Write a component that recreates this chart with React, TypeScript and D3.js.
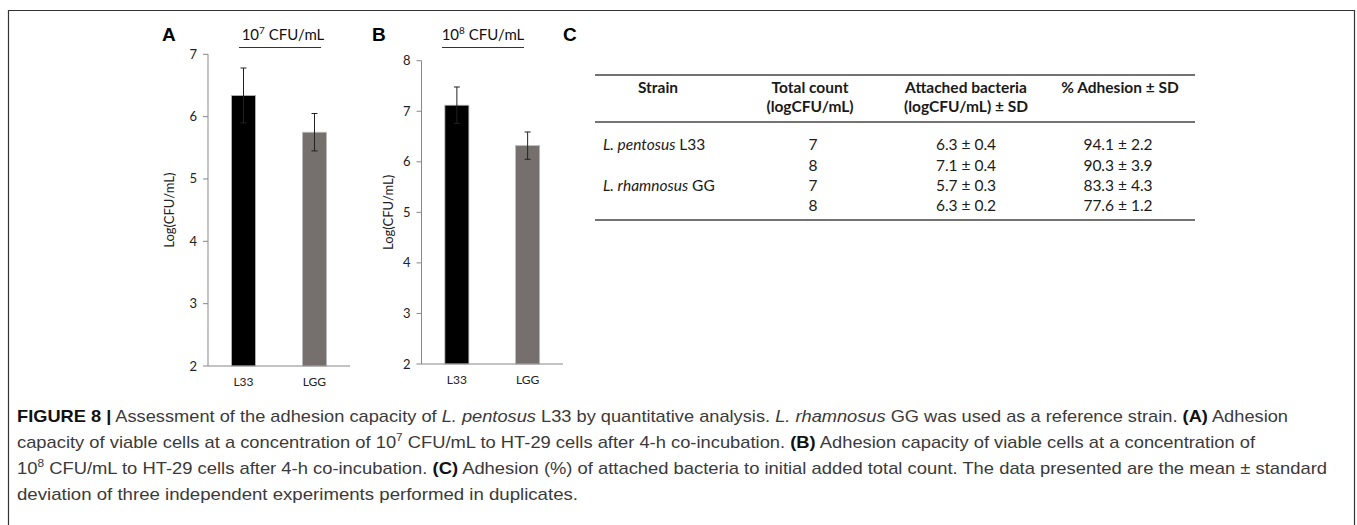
import React from 'react';
import * as d3 from 'd3';

// panel data (log CFU/mL, mean and SD)
const strains = ['L33', 'LGG'];
const meansA = [6.34, 5.75];
const sdA = [0.44, 0.3];
const meansB = [7.12, 6.32];
const sdB = [0.36, 0.27];
const ticksA = [2, 3, 4, 5, 6, 7];
const ticksB = [2, 3, 4, 5, 6, 7, 8];
const barColors = ['#000000', '#756f6d'];

// table C
const tableHeaders = [
  ['Strain'],
  ['Total count', '(logCFU/mL)'],
  ['Attached bacteria', '(logCFU/mL) ± SD'],
  ['% Adhesion ± SD'],
];
const tableStrain = ['L. pentosus', '', 'L. rhamnosus', ''];
const tableStrainCode = ['L33', '', 'GG', ''];
const tableTotal = ['7', '8', '7', '8'];
const tableAttached = ['6.3 ± 0.4', '7.1 ± 0.4', '5.7 ± 0.3', '6.3 ± 0.2'];
const tableAdhesion = ['94.1 ± 2.2', '90.3 ± 3.9', '83.3 ± 4.3', '77.6 ± 1.2'];

const chartFont = 'Lato, "Open Sans", sans-serif';
const capFont = '"Liberation Sans", Arial, sans-serif';

type PanelProps = {
  letter: string;
  exp: string;
  means: number[];
  sds: number[];
  ticks: number[];
  x0: number;
  x1: number;
  yTop: number;
  yBottom: number;
  letterX: number;
  titleX: number;
  ruleX: [number, number];
  labelX: number;
};

const Panel = (p: PanelProps) => {
  const y = d3.scaleLinear()
    .domain([2, d3.max(p.ticks) as number])
    .range([p.yBottom, p.yTop]);
  const x = d3.scaleBand<string>()
    .domain(strains)
    .range([p.x0, p.x1])
    .paddingInner(0.66)
    .paddingOuter(0.33);
  const bw = x.bandwidth();
  const midY = (p.yTop + p.yBottom) / 2;

  return (
    <g fontFamily={chartFont}>
      <text x={p.letterX} y={41} fontSize={19} fontWeight="bold" fontFamily={capFont}>{p.letter}</text>
      <text x={p.titleX} y={40} fontSize={15} textAnchor="middle" fill="#111">
        10<tspan dy={-6} fontSize={10}>{p.exp}</tspan><tspan dy={6}> CFU/mL</tspan>
      </text>
      <line x1={p.ruleX[0]} x2={p.ruleX[1]} y1={47.5} y2={47.5} stroke="#333" strokeWidth={1} />

      {/* bars */}
      {strains.map((s, i) => (
        <rect key={s}
          x={x(s)}
          y={y(p.means[i])}
          width={bw}
          height={p.yBottom - y(p.means[i])}
          fill={barColors[i]}
          stroke="#bdbdbd"
          strokeWidth={0.8} />
      ))}

      {/* error bars */}
      {strains.map((s, i) => {
        const cx = (x(s) as number) + bw / 2;
        const top = y(p.means[i] + p.sds[i]);
        const bot = y(p.means[i] - p.sds[i]);
        return (
          <g key={s} stroke="#222" strokeWidth={1}>
            <line x1={cx} x2={cx} y1={top} y2={bot} />
            <line x1={cx - 3} x2={cx + 3} y1={top} y2={top} />
            <line x1={cx - 3} x2={cx + 3} y1={bot} y2={bot} />
          </g>
        );
      })}

      {/* y axis */}
      <line x1={p.x0} x2={p.x0} y1={p.yTop} y2={p.yBottom} stroke="#888" strokeWidth={1} />
      {p.ticks.map(t => (
        <g key={t}>
          <line x1={p.x0 - 5} x2={p.x0} y1={y(t)} y2={y(t)} stroke="#888" strokeWidth={1} />
          <text x={p.x0 - 11} y={y(t) + 4.5} fontSize={13} textAnchor="end" fill="#222">{t}</text>
        </g>
      ))}
      <text transform={`translate(${p.labelX},${midY}) rotate(-90)`} fontSize={13} textAnchor="middle" fill="#222">Log(CFU/mL)</text>

      {/* x axis */}
      <line x1={p.x0} x2={p.x1} y1={p.yBottom} y2={p.yBottom} stroke="#888" strokeWidth={1} />
      {strains.map(s => (
        <text key={s} x={(x(s) as number) + bw / 2} y={p.yBottom + 20} fontSize={12} textAnchor="middle" fill="#222">{s}</text>
      ))}
    </g>
  );
};

const Table = () => {
  const colX = [658, 810, 966, 1120];
  const rowY = [150, 171, 191, 211];
  return (
    <g fontFamily={chartFont} fontSize={15.5} fill="#1a1a1a">
      <text x={563} y={41} fontSize={19} fontWeight="bold" fontFamily={capFont} fill="#000">C</text>
      <line x1={595} x2={1195} y1={75} y2={75} stroke="#444" strokeWidth={1.5} />
      <line x1={595} x2={1195} y1={122} y2={122} stroke="#444" strokeWidth={1.5} />
      <line x1={595} x2={1195} y1={220} y2={220} stroke="#444" strokeWidth={1.5} />
      {tableHeaders.map((h, i) => (
        <text key={i} x={colX[i]} y={93} textAnchor="middle" fontWeight="bold">
          {h.map((l, j) => (
            <tspan key={j} x={colX[i]} dy={j === 0 ? 0 : 19}>{l}</tspan>
          ))}
        </text>
      ))}
      {rowY.map((ry, i) => (
        <g key={i}>
          {tableStrain[i] && (
            <text x={603} y={ry}>
              <tspan fontStyle="italic">{tableStrain[i]}</tspan> {tableStrainCode[i]}
            </text>
          )}
          <text x={813} y={ry} textAnchor="middle">{tableTotal[i]}</text>
          <text x={966} y={ry} textAnchor="middle">{tableAttached[i]}</text>
          <text x={1118} y={ry} textAnchor="middle">{tableAdhesion[i]}</text>
        </g>
      ))}
    </g>
  );
};

const Caption = () => (
  <g fontFamily={capFont} fontSize={17} fill="#3a3a3a">
    <text x={17} y={422} textLength={1271} lengthAdjust="spacingAndGlyphs">
      <tspan fontWeight="bold" fill="#111">FIGURE 8 |</tspan> Assessment of the adhesion capacity of <tspan fontStyle="italic">L. pentosus</tspan> L33 by quantitative analysis. <tspan fontStyle="italic">L. rhamnosus</tspan> GG was used as a reference strain. <tspan fontWeight="bold" fill="#111">(A)</tspan> Adhesion
    </text>
    <text x={17} y={448} textLength={1238} lengthAdjust="spacingAndGlyphs">
      capacity of viable cells at a concentration of 10<tspan dy={-7} fontSize={11}>7</tspan><tspan dy={7}> CFU/mL to HT-29 cells after 4-h co-incubation. </tspan><tspan fontWeight="bold" fill="#111">(B)</tspan> Adhesion capacity of viable cells at a concentration of
    </text>
    <text x={17} y={474} textLength={1310} lengthAdjust="spacingAndGlyphs">
      10<tspan dy={-7} fontSize={11}>8</tspan><tspan dy={7}> CFU/mL to HT-29 cells after 4-h co-incubation. </tspan><tspan fontWeight="bold" fill="#111">(C)</tspan> Adhesion (%) of attached bacteria to initial added total count. The data presented are the mean ± standard
    </text>
    <text x={17} y={500} textLength={561} lengthAdjust="spacingAndGlyphs">
      deviation of three independent experiments performed in duplicates.
    </text>
  </g>
);

export default function App() {
  return (
    <svg width={1357} height={525} style={{ position: 'absolute', left: 0, top: 0, background: '#fff' }}>
      <path d="M8.5,540 V10.5 H1354.5 V540" fill="none" stroke="#333" strokeWidth={1.2} />
      <Panel letter="A" exp="7" means={meansA} sds={sdA} ticks={ticksA}
        x0={208} x1={350} yTop={54.3} yBottom={366}
        letterX={162} titleX={283} ruleX={[239, 321]} labelX={174} />
      <Panel letter="B" exp="8" means={meansB} sds={sdB} ticks={ticksB}
        x0={421.5} x1={563} yTop={60.7} yBottom={364}
        letterX={372} titleX={483} ruleX={[442, 524]} labelX={393} />
      <Table />
      <Caption />
    </svg>
  );
}
